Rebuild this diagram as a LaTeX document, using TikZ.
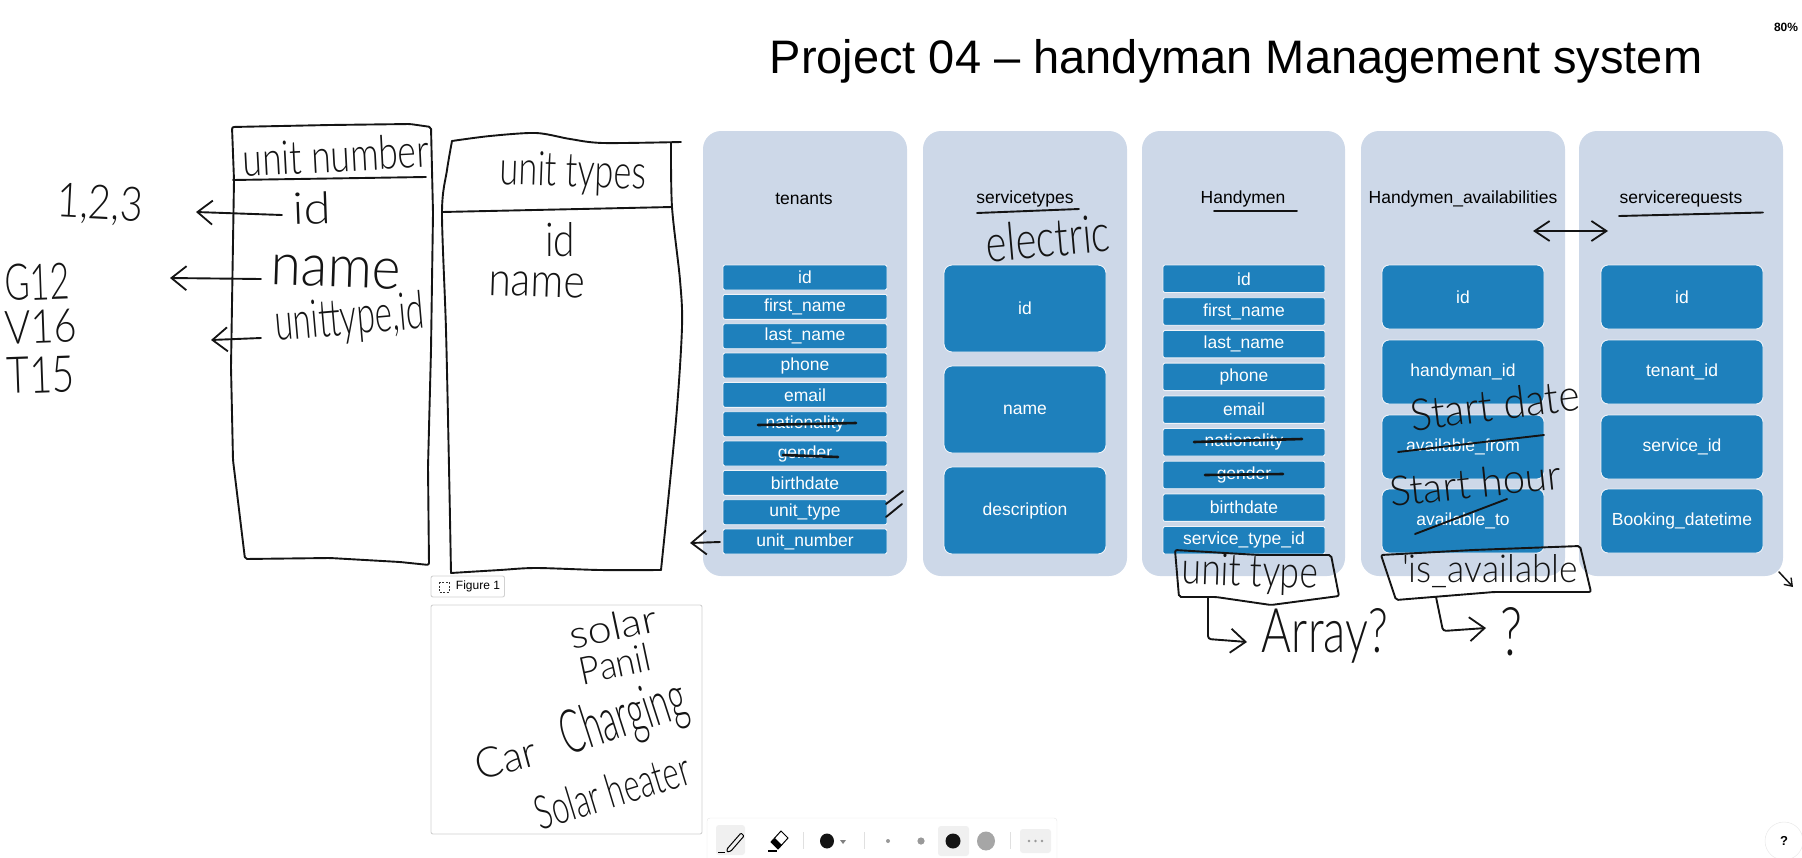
\documentclass[tikz,border=0pt]{standalone}
\usepackage{fontspec}
\usepackage{graphicx}
\setmainfont{Liberation Sans}
\newfontfamily\hw{Lato Light}
\usetikzlibrary{arrows.meta,calc}
\definecolor{panelc}{HTML}{CDD8E8}
\definecolor{rowc}{HTML}{1E80BC}
\definecolor{inkc}{HTML}{141414}
\tikzset{
  panel/.style={fill=panelc,draw=none,rounded corners=18pt},
  rowbox/.style={fill=rowc,draw=white!70!panelc,line width=0.9pt,rounded corners=#1},
  rowtext/.style={text=white,font=\fontsize{17.5}{20}\selectfont,inner sep=0pt},
  title/.style={text=black,font=\fontsize{17.5}{20}\selectfont,inner sep=0pt},
  ink/.style={draw=inkc,line width=1.9pt,line cap=round,line join=round},
  inkstrike/.style={draw=inkc,line width=2.6pt,line cap=round,line join=round},
  inkthin/.style={draw=inkc,line width=1.5pt,line cap=round,line join=round},
  harrow/.style={ink,-{Straight Barb[length=15pt,width=24pt,line width=1.8pt]}},
  hharrow/.style={ink,{Straight Barb[length=15pt,width=20pt,line width=1.8pt]}-{Straight Barb[length=15pt,width=20pt,line width=1.8pt]}},
  hwtext/.style={text=inkc,inner sep=0pt},
  uibox/.style={draw=black!18,fill=white,line width=0.9pt,rounded corners=2pt},
  uibtn/.style={fill=black!6,draw=none,rounded corners=3pt}
}
% name, position, width, rotation, height, text
\newcommand{\hwt}[6]{\node[hwtext,rotate=#4] (#1) at (#2) {\resizebox{#3pt}{#5pt}{\hw #6}};}
% row: name, x1, y1, x2, y2, radius, text
\newcommand{\rowb}[7]{\draw[rowbox=#6] (#2,#3) rectangle (#4,#5); \node[rowtext] (#1) at ({(#2+#4)/2},{(#3+#5)/2}) {#7};}
\begin{document}
\begin{tikzpicture}[x=1pt,y=-1pt]
\useasboundingbox (0,0) rectangle (1802,857);
% panels
\fill[panel] (703,131) rectangle (907,576);
\fill[panel] (923,131) rectangle (1127,576);
\fill[panel] (1142,131) rectangle (1345,576);
\fill[panel] (1361,131) rectangle (1565,576);
\fill[panel] (1579,131) rectangle (1783,576);
% title
\node[inner sep=0pt,font=\fontsize{47}{53}\selectfont] (maintitle) at (1236,61) {Project 04 – handyman Management system};
\node[inner sep=0pt,font=\bfseries\fontsize{12}{14}\selectfont] (zoomlevel) at (1786,27) {80\%};
% panel titles
\node[title] (t1) at (804,199) {tenants};
\node[title] (t2) at (1025,199) {servicetypes};
\node[title] (t3) at (1243,199) {Handymen};
\node[title] (t4) at (1463,199) {Handymen\_availabilities};
\node[title] (t5) at (1681,199) {servicerequests};
% tenants rows
\rowb{a1}{723}{265}{887}{290}{2pt}{id}
\rowb{a2}{723}{294.3}{887}{319.3}{2pt}{first\_name}
\rowb{a3}{723}{323.7}{887}{348.7}{2pt}{last\_name}
\rowb{a4}{723}{353}{887}{378}{2pt}{phone}
\rowb{a5}{723}{382.3}{887}{407.3}{2pt}{email}
\rowb{a6}{723}{411.7}{887}{436.7}{2pt}{nationality}
\rowb{a7}{723}{441}{887}{466}{2pt}{gender}
\rowb{a8}{723}{470.3}{887}{495.3}{2pt}{birthdate}
\rowb{a9}{723}{499.7}{887}{524.7}{2pt}{unit\_type}
\rowb{a10}{723}{529}{887}{554}{2pt}{unit\_number}
% servicetypes
\rowb{b1}{944}{265}{1106}{352}{8pt}{id}
\rowb{b2}{944}{366}{1106}{453}{8pt}{name}
\rowb{b3}{944}{467}{1106}{554}{8pt}{description}
% handymen
\rowb{c1}{1163}{265}{1325}{292.5}{2pt}{id}
\rowb{c2}{1163}{297.7}{1325}{325.2}{2pt}{first\_name}
\rowb{c3}{1163}{330.4}{1325}{357.9}{2pt}{last\_name}
\rowb{c4}{1163}{363.1}{1325}{390.6}{2pt}{phone}
\rowb{c5}{1163}{395.8}{1325}{423.3}{2pt}{email}
\rowb{c6}{1163}{428.5}{1325}{456}{2pt}{nationality}
\rowb{c7}{1163}{461.2}{1325}{488.7}{2pt}{gender}
\rowb{c8}{1163}{493.9}{1325}{521.4}{2pt}{birthdate}
\rowb{c9}{1163}{526.5}{1325}{554}{2pt}{service\_type\_id}
% availabilities
\rowb{d1}{1382}{265}{1544}{329}{7pt}{id}
\rowb{d2}{1382}{340}{1544}{404}{7pt}{handyman\_id}
\rowb{d3}{1382}{415}{1544}{479}{7pt}{available\_from}
\rowb{d4}{1382}{489}{1544}{553}{7pt}{available\_to}
% servicerequests
\rowb{e1}{1601}{265}{1763}{329}{7pt}{id}
\rowb{e2}{1601}{340}{1763}{404}{7pt}{tenant\_id}
\rowb{e3}{1601}{415}{1763}{479}{7pt}{service\_id}
\rowb{e4}{1601}{489}{1763}{553}{7pt}{Booking\_datetime}

% sketched table 1
\draw[ink,rounded corners=2pt] (232,127) -- (330,125) -- (410,124) -- (431,127) -- (433,213) -- (431,350) -- (428,467) -- (429,565) -- (400,562) -- (330,558) -- (245,559) -- (233,460) -- (231,367) -- (234,180) -- cycle;
\draw[ink] (233,180) -- (426,177);
% sketched table 2
\draw[ink] plot[smooth,tension=0.5] coordinates {(452,141) (490,136) (536,133) (570,139) (603,143) (681,142)};
\draw[ink] plot[smooth,tension=0.5] coordinates {(452,141) (447,170) (442,212) (446,330) (449,467) (451,573)};
\draw[ink] (442,212) -- (672,207);
\draw[ink] plot[smooth,tension=0.5] coordinates {(671,143) (672,207) (680,280) (682,327) (676,420) (661,570)};
\draw[ink] plot[smooth,tension=0.5] coordinates {(451,573) (500,570) (536,568) (600,570) (661,570)};

% sketched table labels
\hwt{hu1}{336,155}{186}{3}{34}{unit number}
\hwt{hu2}{573,174}{146}{-2}{34}{unit types}
\hwt{hid}{312,208}{38}{2}{32}{id}
\hwt{h123}{100,205}{86}{-3}{34}{1,2,3}
\hwt{hg}{37,282}{65}{2}{36}{G12}
\hwt{hv}{41,327}{72}{2}{33}{V16}
\hwt{ht}{41,375}{68}{2}{36}{T15}
\hwt{hname}{336,272}{130}{-2}{30}{name}
\hwt{hut}{350,320}{150}{5}{38}{unittype,id}
\hwt{hid2}{560,240}{30}{0}{34}{id}
\hwt{hname2}{537,285}{96}{-2}{24}{name}

\coordinate (idfrom) at (282,215);
\coordinate (idto) at (196,212);
\draw[harrow] (idfrom) -- (idto);
\coordinate (namefrom) at (261,279);
\coordinate (nameto) at (170,278);
\draw[harrow] (namefrom) -- (nameto);
\coordinate (utfrom) at (261,338);
\coordinate (utto) at (211,340);
\draw[harrow] (utfrom) -- (utto);
\coordinate (unfrom) at (720,542);
\coordinate (unto) at (690,543);
\draw[harrow] (unfrom) -- (unto);

% strikes and marks
\draw[inkstrike] (758,425) -- (856,423);
\draw[inkstrike] (783,455) -- (838,457);
\draw[ink] (886,504) -- (903,491);
\draw[ink] (886,517) -- (902,504);
\draw[ink] (977,213) -- (1079,209);
\hwt{helec}{1048,238}{124}{5}{38}{electric}
\draw[ink] (1214,211) -- (1297,211);
\draw[ink] (1619,216) -- (1763,212.5);
\coordinate (da) at (1533,231);
\coordinate (db) at (1608,231);
\draw[hharrow] (da) -- (db);
\draw[inkstrike] (1194,442) -- (1302,439);
\draw[inkstrike] (1205,475) -- (1283,474);
\draw[ink] (1398,452) -- (1544,435);
\draw[ink] (1415,534) -- (1507,499);
\hwt{hsd}{1495,405}{170}{7}{32}{Start date}
\hwt{hsh}{1475,483}{172}{6}{30}{Start hour}

% unit type box
\draw[ink,rounded corners=2pt] (1175,550) -- (1259,555) -- (1331,555) -- (1339,596) -- (1271,605) -- (1216,597) -- (1179,597) -- cycle;
\hwt{hbut}{1250,574}{136}{-2}{32}{unit type}
\coordinate (ua) at (1208,597);
\coordinate (ub) at (1247,642);
\draw[harrow,rounded corners=3pt] (ua) -- (1208,639) -- (ub);
\hwt{harr}{1325,636}{126}{0}{44}{Array?}
% is_available box
\draw[ink,rounded corners=2pt] (1381,555) -- (1473,550) -- (1580,546) -- (1591,592) -- (1494,592) -- (1396,600) -- cycle;
\hwt{hisa}{1490,571}{176}{0}{28}{'is\_available}
\coordinate (ia) at (1436,597);
\coordinate (ib) at (1486,628);
\draw[harrow,rounded corners=3pt] (ia) -- (1443,631) -- (ib);
\hwt{hq}{1511,632}{22}{0}{48}{?}
% corner mark
\coordinate (ca) at (1779,572);
\coordinate (cb) at (1793,587);
\draw[inkthin,-{Straight Barb[length=7pt,width=10pt,line width=1.4pt]}] (ca) -- (cb);

% figure
\draw[uibox] (431,576) rectangle (504.5,597);
\draw[black!80,line width=1pt,dashed,dash pattern=on 2pt off 1.5pt] (439,582) rectangle (449,592);
\node[inner sep=0pt,font=\fontsize{12}{14}\selectfont] (figlabel) at (478,586.5) {Figure 1};
\draw[uibox] (431,605) rectangle (702,834);
\hwt{hs1}{613,627}{88}{12}{28}{solar}
\hwt{hs2}{615,664}{72}{12}{28}{Panil}
\hwt{hs3}{624,720}{130}{18}{44}{Charging}
\hwt{hs4}{506,758}{62}{15}{30}{Car}
\hwt{hs5}{612,791}{160}{17}{34}{Solar heater}

% toolbar
\draw[draw=black!10,fill=white,rounded corners=3pt] (707,818) -- (1057,818) -- (1057,870) -- (707,870) -- cycle;
\fill[uibtn] (716,825) rectangle (745,855);
\draw[black,line width=1pt,rounded corners=1pt] (727,849) -- (741,833) -- (744,836) -- (731,851) -- (727,852) -- cycle;
\draw[black,line width=1pt] (718,852) -- (725,852);
\draw[black,line width=1pt,fill=white] (771,842) -- (781,831) -- (788,838) -- (778,849) -- cycle;
\fill[black] (771,842) -- (775,838) -- (782,845) -- (778,849) -- cycle;
\draw[black,line width=1.2pt] (768,851) -- (777,851);
\fill[inkc] (827,841) ellipse (7pt and 7.5pt);
\fill[black!50] (840,840) -- (846,840) -- (843,844) -- cycle;
\draw[black!12,line width=0.9pt] (803,832) -- (803,849);
\draw[black!12,line width=0.9pt] (864,832) -- (864,849);
\draw[black!12,line width=0.9pt] (1010,832) -- (1010,849);
\fill[black!40] (888,841) circle (2pt);
\fill[black!40] (921,841) circle (3.6pt);
\fill[uibtn] (938,826) rectangle (969,856);
\fill[inkc] (953,841) circle (7.5pt);
\fill[black!35] (986,841) ellipse (9pt and 9.5pt);
\fill[uibtn] (1020,829) rectangle (1051,853);
\fill[black!40] (1029,841) circle (1.4pt) (1035.5,841) circle (1.4pt) (1042,841) circle (1.4pt);
% help button
\draw[draw=black!10,fill=white] (1784,841) circle (19pt);
\node[inner sep=0pt,font=\bfseries\fontsize{13}{15}\selectfont] (helpq) at (1784,841) {?};
\end{tikzpicture}
\end{document}
